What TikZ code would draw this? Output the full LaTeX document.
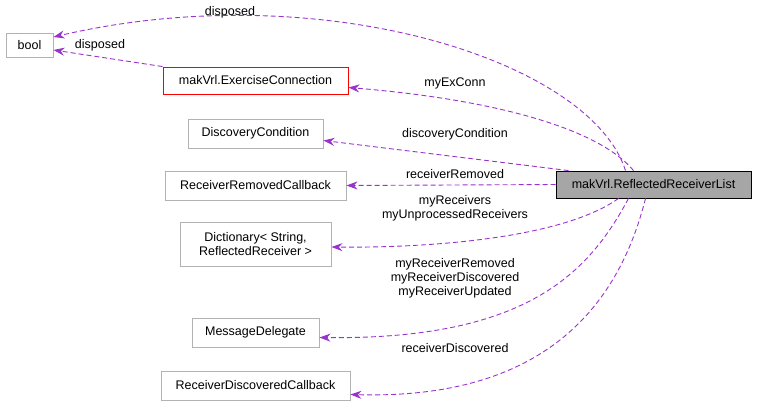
\documentclass[tikz,border=0pt]{standalone}
\usepackage{fontspec}
\setmainfont{Liberation Sans}
\usetikzlibrary{arrows.meta}
\definecolor{edge}{HTML}{9A32CD}
\begin{document}
\begin{tikzpicture}[x=1pt,y=-1pt,
  box/.style={draw=black!30,line width=0.9pt,fill=white,inner sep=0pt,font=\fontsize{12.5}{14.5}\selectfont,align=center},
  e/.style={draw=edge,line width=0.9pt,dash pattern=on 5pt off 3pt,-{Stealth[length=11pt,width=8pt]}},
  lab/.style={font=\fontsize{12.5}{14}\selectfont,align=center,inner sep=1pt}]
\useasboundingbox (0,0) rectangle (757,405);
\node[box,minimum width=47,minimum height=24] (bool) at (29.5,45) {bool};
\node[box,draw=red,minimum width=185,minimum height=27] (ex) at (255.5,80.5) {makVrl.ExerciseConnection};
\node[box,minimum width=135,minimum height=29] (dc) at (255.5,133.5) {DiscoveryCondition};
\node[box,minimum width=181,minimum height=29] (rr) at (255.5,185.5) {ReceiverRemovedCallback};
\node[box,minimum width=151,minimum height=44] (dict) at (255.5,244) {Dictionary< String,\\ ReflectedReceiver >};
\node[box,minimum width=127,minimum height=29] (md) at (255.5,332.5) {MessageDelegate};
\node[box,minimum width=189,minimum height=29] (rd) at (255.5,385.5) {ReceiverDiscoveredCallback};
\node[box,draw=black,fill=black!35,minimum width=195,minimum height=27] (main) at (653.5,184.5) {makVrl.ReflectedReceiverList};

\draw[e] ([xshift=-28]main.north) .. controls (590,60) and (320,-25) .. ([yshift=8]bool.east);
\node[lab] at (230,12) {disposed};
\draw[e] (ex.north west) -- ([yshift=-5]bool.east);
\node[lab] at (100,45) {disposed};
\draw[e] ([xshift=-20]main.north) .. controls (600,130) and (500,100) .. ([yshift=-7]ex.east);
\node[lab] at (455,83) {myExConn};
\draw[e] ([xshift=-85]main.north) -- ([yshift=-7]dc.east);
\node[lab] at (455,134) {discoveryCondition};
\draw[e] (main.west) -- (rr.east);
\node[lab] at (455,174) {receiverRemoved};
\draw[e] ([xshift=-35]main.south) .. controls (560,240) and (420,248) .. ([yshift=-3]dict.east);
\node[lab] at (455,208) {myReceivers\\myUnprocessedReceivers};
\draw[e] ([xshift=-25]main.south) .. controls (590,270) and (530,340) .. ([yshift=-5]md.east);
\node[lab] at (455,278) {myReceiverRemoved\\myReceiverDiscovered\\myReceiverUpdated};
\draw[e] ([xshift=-8]main.south) .. controls (620,300) and (550,400) .. ([yshift=-9]rd.east);
\node[lab] at (455,348) {receiverDiscovered};
\end{tikzpicture}
\end{document}
